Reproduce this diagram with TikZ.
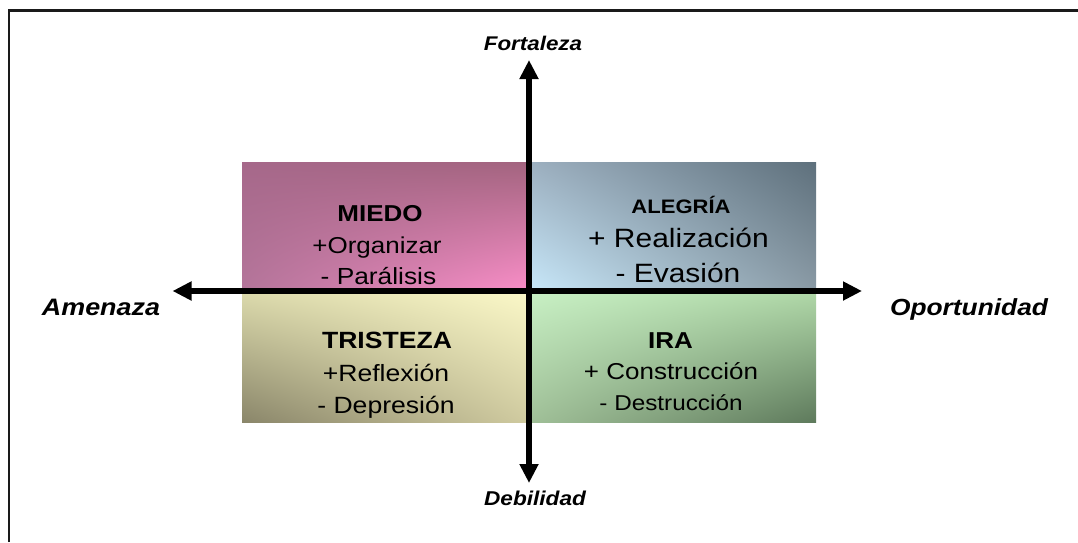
\documentclass[tikz,border=0pt]{standalone}
\usepackage{fontspec}
\setmainfont[FakeStretch=1.13]{Liberation Sans}
\usetikzlibrary{arrows.meta,shadings}
\definecolor{frameclr}{HTML}{1A1A1A}
\definecolor{mUL}{RGB}{166,104,138}
\definecolor{mUR}{RGB}{163,100,127}
\definecolor{mLL}{RGB}{180,117,154}
\definecolor{mLR}{RGB}{250,142,200}
\definecolor{aUL}{RGB}{157,176,192}
\definecolor{aUR}{RGB}{94,112,124}
\definecolor{aLL}{RGB}{200,232,250}
\definecolor{aLR}{RGB}{138,154,165}
\definecolor{tUL}{RGB}{220,218,172}
\definecolor{tUR}{RGB}{251,248,200}
\definecolor{tLL}{RGB}{138,134,106}
\definecolor{tLR}{RGB}{208,203,160}
\definecolor{iUL}{RGB}{200,240,196}
\definecolor{iUR}{RGB}{176,216,168}
\definecolor{iLL}{RGB}{160,192,152}
\definecolor{iLR}{RGB}{94,122,92}
\begin{document}
\begin{tikzpicture}[x=1pt,y=-1pt,
  quad/.style={minimum width=287pt,minimum height=129pt,inner sep=0pt,outer sep=0pt,anchor=north west},
  txt/.style={inner sep=0pt,anchor=base,text=black},
  axislbl/.style={inner sep=0pt,anchor=base,font=\bfseries\itshape\fontsize{#1}{#1}\selectfont},
  axis/.style={line width=6pt,{Triangle[length=19pt,width=18pt]}-{Triangle[length=19pt,width=18pt]}}]
\useasboundingbox (0,0) rectangle (1078,542);
\fill[white] (0,0) rectangle (1078,542);
\draw[frameclr,line width=2.3pt] (8.7,542) -- (8.7,10.5) -- (1078,10.5);

% quadrants
\node[quad,upper left=mUL,upper right=mUR,lower left=mLL,lower right=mLR] (miedo) at (242,162) {};
\node[quad,upper left=aUL,upper right=aUR,lower left=aLL,lower right=aLR] (alegria) at (529,162) {};
\node[quad,minimum height=131pt,upper left=tUL,upper right=tUR,lower left=tLL,lower right=tLR] (tristeza) at (242,291) {};
\node[quad,minimum height=131pt,upper left=iUL,upper right=iUR,lower left=iLL,lower right=iLR] (ira) at (529,291) {};

% texts
\node[txt,font=\bfseries\fontsize{23}{26}\selectfont] (t1) at (380,221.5) {MIEDO};
\node[txt,font=\fontsize{23}{26}\selectfont] (t2) at (377,253) {+Organizar};
\node[txt,font=\fontsize{23.3}{26}\selectfont] (t3) at (378.5,284) {- Parálisis};
\node[txt,font=\bfseries\fontsize{19.5}{22}\selectfont] (t4) at (681,213) {ALEGRÍA};
\node[txt,font=\fontsize{26.5}{30}\selectfont] (t5) at (678.5,247.5) {+ Realización};
\node[txt,font=\fontsize{26.5}{30}\selectfont] (t6) at (678,282) {- Evasión};
\node[txt,font=\bfseries\fontsize{23.5}{26}\selectfont] (t7) at (387,348) {TRISTEZA};
\node[txt,font=\fontsize{23.5}{26}\selectfont] (t8) at (386,381) {+Reflexión};
\node[txt,font=\fontsize{23.5}{26}\selectfont] (t9) at (386,413) {- Depresión};
\node[txt,font=\bfseries\fontsize{23}{26}\selectfont] (t10) at (670.5,348.5) {IRA};
\node[txt,font=\fontsize{23}{26}\selectfont] (t11) at (671,379) {+ Construcción};
\node[txt,font=\fontsize{21.5}{24}\selectfont] (t12) at (671,410) {- Destrucción};

% axis labels
\node[axislbl=19.8] (fort) at (533,50) {Fortaleza};
\node[axislbl=20] (debi) at (535,505) {Debilidad};
\node[axislbl=23.8] (amen) at (101,315.5) {Amenaza};
\node[axislbl=23.3] (opor) at (969,315.5) {Oportunidad};

% axes
\coordinate (west) at (172.5,291);
\coordinate (east) at (862,291);
\coordinate (north) at (529,60);
\coordinate (south) at (529,483);
\draw[axis] (west) -- (east);
\draw[axis] (north) -- (south);
\end{tikzpicture}
\end{document}
